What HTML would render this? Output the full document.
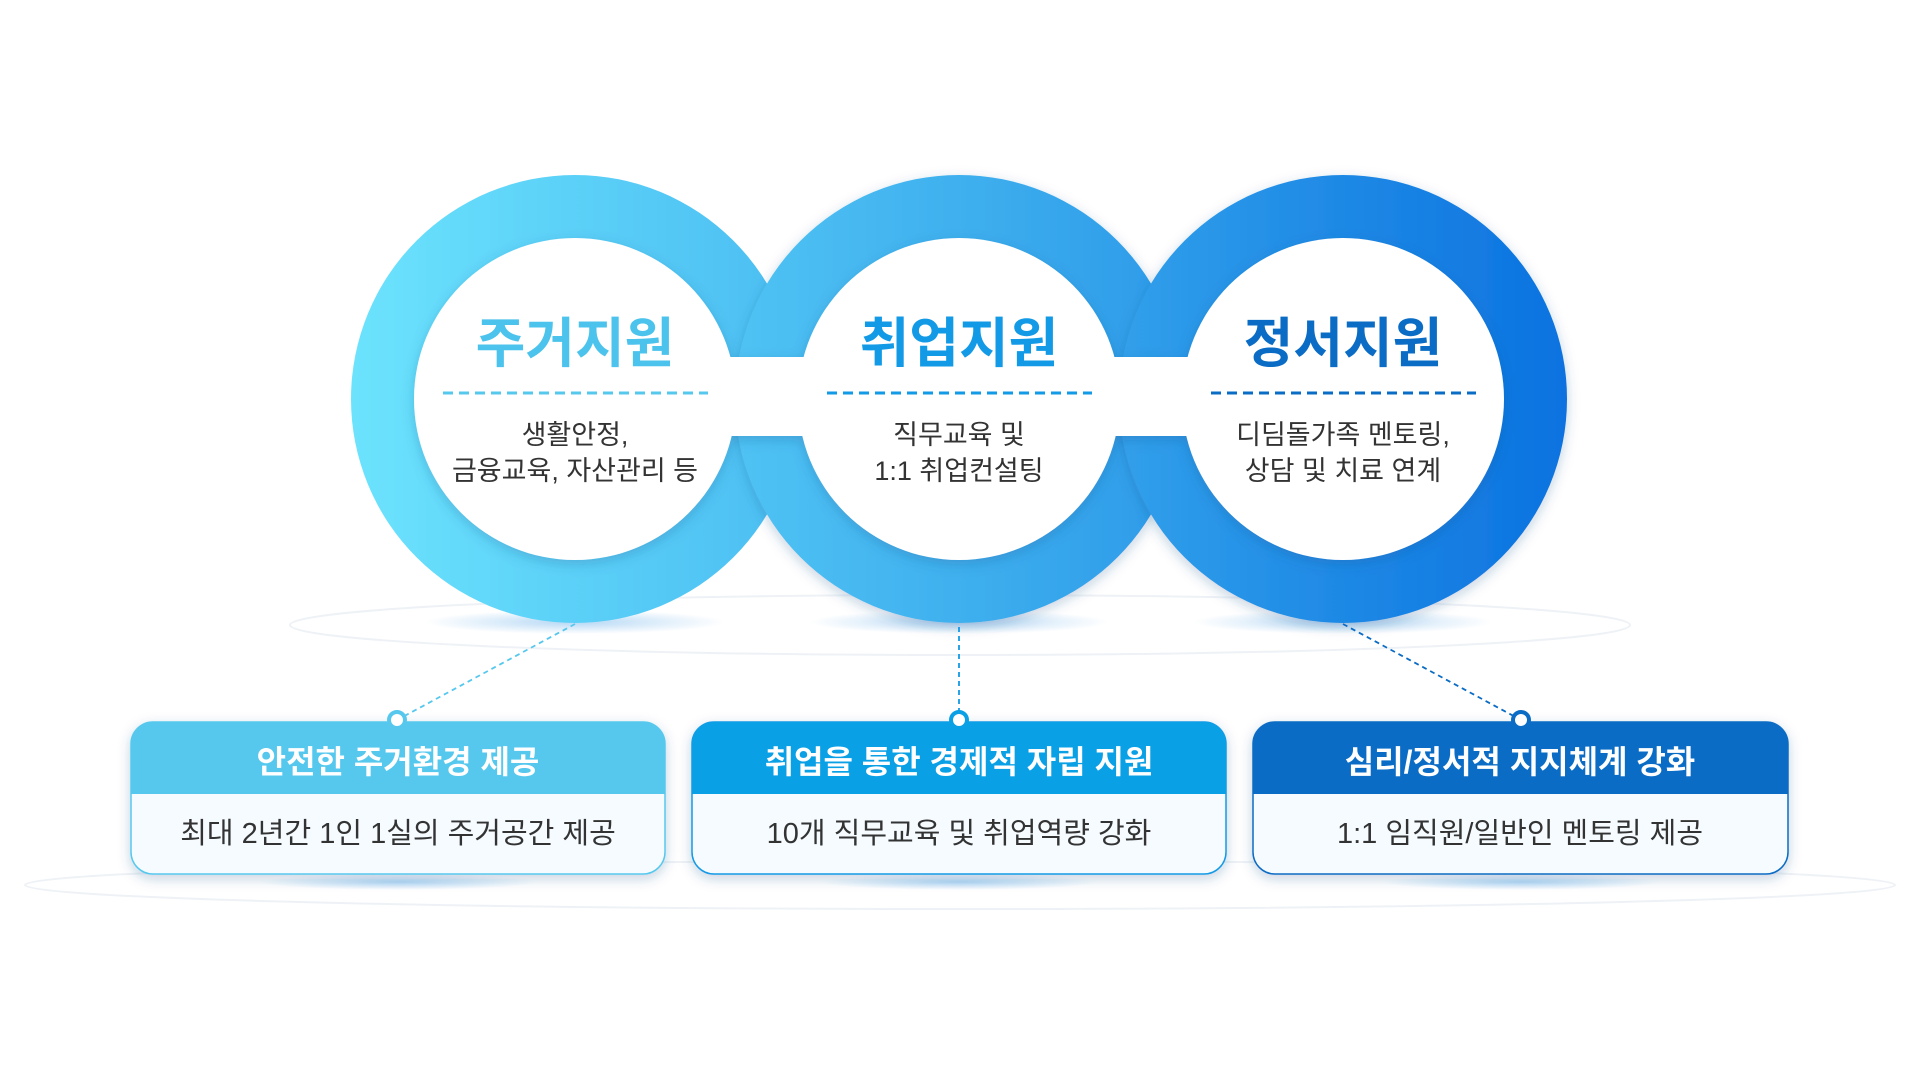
<!DOCTYPE html>
<html><head><meta charset="utf-8"><style>
html,body{margin:0;padding:0;background:#fff;width:1920px;height:1081px;overflow:hidden}
svg{display:block}
text{font-family:"Liberation Sans","Noto Sans CJK KR",sans-serif}
</style></head><body>
<svg width="1920" height="1081" viewBox="0 0 1920 1081" xmlns="http://www.w3.org/2000/svg">
<defs>
<linearGradient id="g" x1="351" y1="0" x2="1567" y2="0" gradientUnits="userSpaceOnUse">
<stop offset="0" stop-color="#6ce3fd"/><stop offset="0.5" stop-color="#3fb0ee"/><stop offset="1" stop-color="#0b72e0"/>
</linearGradient>
<radialGradient id="sh" cx="0.5" cy="0.5" r="0.5"><stop offset="0" stop-color="#5aa8e8" stop-opacity="0.45"/><stop offset="1" stop-color="#5aa8e8" stop-opacity="0"/></radialGradient>
<filter id="ds" x="-20%" y="-20%" width="140%" height="140%"><feDropShadow dx="0" dy="4" stdDeviation="6" flood-color="#1a4f8a" flood-opacity="0.25"/></filter>
</defs>
<ellipse cx="960" cy="625" rx="670" ry="30" fill="none" stroke="#eef2f6" stroke-width="2"/>
<ellipse cx="960" cy="885" rx="935" ry="24" fill="none" stroke="#eef2f6" stroke-width="2"/>
<ellipse cx="575" cy="622" rx="150" ry="12" fill="url(#sh)"/>
<ellipse cx="959" cy="622" rx="150" ry="12" fill="url(#sh)"/>
<ellipse cx="1343" cy="622" rx="150" ry="12" fill="url(#sh)"/>
<circle cx="575" cy="399" r="224" fill="url(#g)"/>
<circle cx="959" cy="399" r="224" fill="url(#g)" filter="url(#ds)"/>
<circle cx="1343" cy="399" r="224" fill="url(#g)" filter="url(#ds)"/>
<g filter="url(#ds)">
<circle cx="575" cy="399" r="161" fill="#fff"/>
<circle cx="959" cy="399" r="161" fill="#fff"/>
<circle cx="1343" cy="399" r="161" fill="#fff"/>
<rect x="700" y="357" width="140" height="79" fill="#fff"/>
<rect x="1084" y="357" width="140" height="79" fill="#fff"/>
</g>
<rect x="690" y="359" width="160" height="75" fill="#fff"/>
<rect x="1074" y="359" width="160" height="75" fill="#fff"/>
<circle cx="575" cy="399" r="159" fill="#fff"/>
<circle cx="959" cy="399" r="159" fill="#fff"/>
<circle cx="1343" cy="399" r="159" fill="#fff"/>
<g font-weight="bold" font-size="54" text-anchor="middle">
<text x="575" y="362" fill="#4cc3ec">주거지원</text>
<text x="959" y="362" fill="#129ae6">취업지원</text>
<text x="1343" y="362" fill="#0a6cc4">정서지원</text>
</g>
<g stroke-width="3" stroke-dasharray="10 6">
<line x1="443" y1="393" x2="708" y2="393" stroke="#56c8ee"/>
<line x1="827" y1="393" x2="1092" y2="393" stroke="#129ae6"/>
<line x1="1211" y1="393" x2="1476" y2="393" stroke="#0a6cc4"/>
</g>
<g font-size="27" fill="#333" text-anchor="middle">
<text x="575" y="444">생활안정,</text><text x="575" y="480">금융교육, 자산관리 등</text>
<text x="959" y="444">직무교육 및</text><text x="959" y="480">1:1 취업컨설팅</text>
<text x="1343" y="444">디딤돌가족 멘토링,</text><text x="1343" y="480">상담 및 치료 연계</text>
</g>
<g stroke-width="1.8" stroke-dasharray="5 4" fill="none">
<line x1="575" y1="624" x2="397" y2="720" stroke="#56c8ee"/>
<line x1="959" y1="627" x2="959" y2="720" stroke="#129ae6"/>
<line x1="1343" y1="624" x2="1521" y2="720" stroke="#0a6cc4"/>
</g>
<ellipse cx="398" cy="882" rx="140" ry="8" fill="url(#sh)"/>
<ellipse cx="959" cy="882" rx="140" ry="8" fill="url(#sh)"/>
<ellipse cx="1521" cy="882" rx="140" ry="8" fill="url(#sh)"/>
<g filter="url(#ds)">
<rect x="131" y="722" width="534" height="152" rx="22" fill="#f5fbff" stroke="#56c8ee" stroke-width="1.5"/>
<rect x="692" y="722" width="534" height="152" rx="22" fill="#f5fbff" stroke="#129ae6" stroke-width="1.5"/>
<rect x="1253" y="722" width="535" height="152" rx="22" fill="#f5fbff" stroke="#0a6cc4" stroke-width="1.5"/>
</g>
<path d="M131 794 V744 a22 22 0 0 1 22 -22 H643 a22 22 0 0 1 22 22 V794 Z" fill="#56c8ee"/>
<path d="M692 794 V744 a22 22 0 0 1 22 -22 H1204 a22 22 0 0 1 22 22 V794 Z" fill="#0aa0e6"/>
<path d="M1253 794 V744 a22 22 0 0 1 22 -22 H1766 a22 22 0 0 1 22 22 V794 Z" fill="#0b6cc6"/>
<g font-weight="bold" font-size="32" fill="#fff" text-anchor="middle">
<text x="398" y="773">안전한 주거환경 제공</text>
<text x="959" y="773">취업을 통한 경제적 자립 지원</text>
<text x="1520" y="773">심리/정서적 지지체계 강화</text>
</g>
<g font-size="29" fill="#333" text-anchor="middle">
<text x="398" y="843">최대 2년간 1인 1실의 주거공간 제공</text>
<text x="959" y="843">10개 직무교육 및 취업역량 강화</text>
<text x="1520" y="843">1:1 임직원/일반인 멘토링 제공</text>
</g>
<circle cx="397" cy="720" r="8" fill="#fff" stroke="#56c8ee" stroke-width="4"/>
<circle cx="959" cy="720" r="8" fill="#fff" stroke="#0aa0e6" stroke-width="4"/>
<circle cx="1521" cy="720" r="8" fill="#fff" stroke="#0b6cc6" stroke-width="4"/>
</svg>
</body></html>
